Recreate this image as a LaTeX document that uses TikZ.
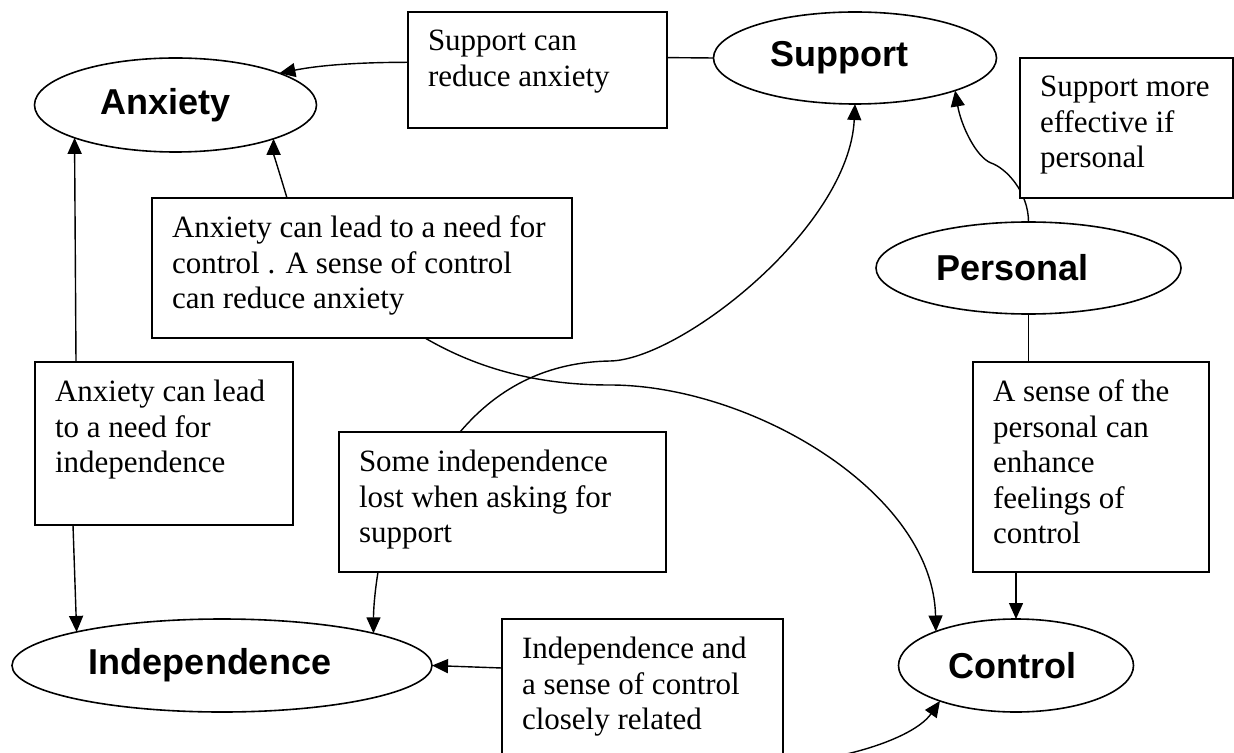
\documentclass[tikz,border=0pt]{standalone}
\usepackage{fontspec}
\setmainfont{Liberation Serif}
\newfontfamily\lblfont{Liberation Sans}
\usetikzlibrary{arrows.meta,shapes.geometric,calc,backgrounds}
\newcommand{\tbx}[3]{\begin{minipage}[t][#2][t]{#1}\fontsize{15.5}{17.75}\selectfont #3\end{minipage}}
\begin{document}
\begin{tikzpicture}[x=0.5pt,y=-0.5pt,
  tbox/.style={draw,fill=white,line width=0.8pt,anchor=north west,inner xsep=10pt,inner ysep=9pt,outer sep=0pt},
  oval/.style={draw,fill=white,ellipse,line width=0.8pt,inner sep=0pt,outer sep=0pt,font=\lblfont\bfseries\fontsize{18}{20}\selectfont},
  conn/.style={line width=0.7pt},
  arr/.style={conn,-{Triangle[length=8pt,width=7pt]}}]
\useasboundingbox (0,0) rectangle (1234,753);
% ellipses
\node[oval,minimum width=141pt,minimum height=47pt] (anx) at (175.5,105) {Anxiety\kern10pt};
\node[oval,minimum width=141.5pt,minimum height=46pt] (sup) at (855,58) {Support\kern16pt};
\node[oval,minimum width=152.5pt,minimum height=46pt] (per) at (1028.5,268) {Personal\kern16pt};
\node[oval,minimum width=210pt,minimum height=46.5pt] (ind) at (222,665.5) {Independence\kern12pt};
\node[oval,minimum width=117.5pt,minimum height=46.5pt] (ctl) at (1016,665.5) {Control\kern4pt};
% text boxes
\node[tbox] (sr) at (408,12) {\tbx{109.5pt}{40pt}{Support can\\reduce anxiety}};
\node[tbox] (sm) at (1020,58) {\tbx{86.5pt}{52pt}{Support more\\effective if\\personal}};
\node[tbox] (ac) at (152,198) {\tbx{190pt}{52pt}{Anxiety can lead to a need for\\control . A sense of control\\can reduce anxiety}};
\node[tbox] (al) at (35,362) {\tbx{109pt}{63.5pt}{Anxiety can lead\\to a need for\\independence}};
\node[tbox] (si) at (339,432) {\tbx{143.5pt}{52pt}{Some independence\\lost when asking for\\support}};
\node[tbox] (ic) at (502,619) {\tbx{120.5pt}{52.5pt}{Independence and\\a sense of control\\closely related}};
\node[tbox] (sp) at (973,362) {\tbx{98pt}{87pt}{A sense of the\\personal can\\enhance\\feelings of\\control}};
% connectors
\begin{pgfonlayer}{background}
\fill[white] (0,0) rectangle (1234,753);
\coordinate (k1) at (991,163);
\coordinate (k2) at (610,385);
\coordinate (k3) at (610,361);
\draw[arr] ($(sr.west)+(0,-7.7)$) .. controls +(-50,0) and +(40,-8) .. (anx.17.7);
\draw[conn] ($(sr.east)+(0,-12.4)$) -- (sup.west);
\draw[arr] (per.north) .. controls +(0,-30) and +(15,5) .. (k1) .. controls +(-15,-6) and +(6,35) .. (sup.-18);
\draw[arr] ($(ac.north)+(-75,0)$) .. controls +(-6,-20) and +(0,15) .. (anx.-19.2);
\draw[arr] ($(ac.south)+(63,0)$) .. controls +(55,32) and +(-70,0) .. (k2) .. controls +(140,0) and +(-3,-140) .. (ctl.157.2);
\draw[arr] ($(si.north)+(-42.5,0)$) .. controls +(40,-47) and +(-60,1) .. (k3) .. controls +(70,-1) and +(-6,124) .. (sup.south);
\draw[arr] ($(si.south)+(-124.5,0)$) .. controls +(-4,25) and +(0,-20) .. (ind.12.3);
\draw[arr] ($(al.north)+(-88,0)$) -- (anx.198);
\draw[arr] ($(al.south)+(-91,0)$) -- (ind.167.7);
\draw[arr] ($(ic.west)+(0,-21.5)$) -- (ind.east);
\draw[conn] (per.south) -- (per.south |- sp.north);
\draw[arr] (ctl.north |- sp.south) -- (ctl.north);
\draw[arr] ($(ic.south east)+(-13,0)$) .. controls +(40,8) and +(-30,43) .. (ctl.-155.7);
\end{pgfonlayer}
\end{tikzpicture}
\end{document}
